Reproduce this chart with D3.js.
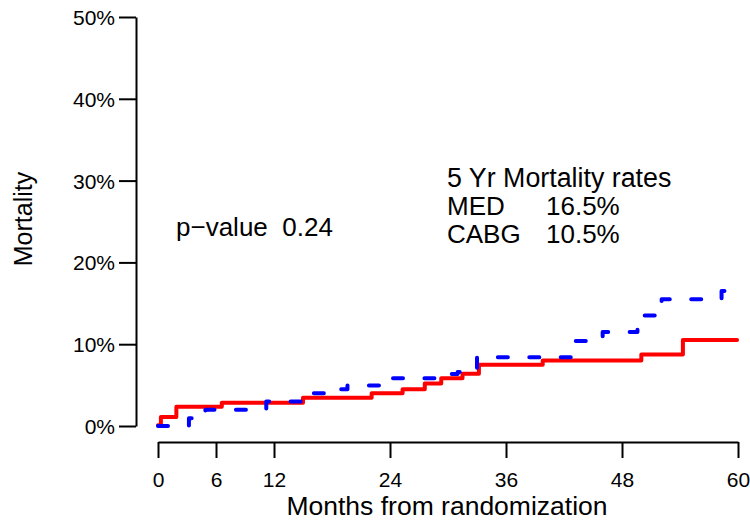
<!DOCTYPE html>
<html>
<head>
<meta charset="utf-8">
<script src="https://cdn.jsdelivr.net/npm/d3@7"></script>
<style>
  html, body { margin: 0; padding: 0; background: #fff; }
  svg { display: block; }
  text { font-family: "Liberation Sans", Arial, Helvetica, sans-serif; fill: #000; }
</style>
</head>
<body>
<svg id="chart" width="750" height="522"></svg>
<script>
// Cumulative mortality (%) by month, stepping at each event
const cabgMonths = [0, 0.3, 1.9, 6.6, 15.0, 22.1, 25.3, 27.6, 29.3, 31.5, 33.2, 39.8, 50.0, 54.3, 59.9];
const cabgPct    = [0.1, 1.1, 2.35, 2.85, 3.45, 4.0, 4.5, 5.2, 5.85, 6.4, 7.5, 8.0, 8.75, 10.5, 10.5];

const medMonths = [0, 3.2, 4.9, 11.2, 14.9, 17.8, 19.6, 23.0, 29.0, 31.0, 33.0, 43.1, 46.0, 49.6, 52.1, 58.3, 58.6];
const medPct    = [0, 0.95, 2.0, 3.0, 4.0, 4.5, 4.95, 5.85, 6.35, 6.6, 8.4, 10.4, 11.5, 13.5, 15.5, 16.5, 16.5];

const xTicks = [0, 6, 12, 24, 36, 48, 60];
const yTicks = [0, 10, 20, 30, 40, 50];

const svg = d3.select("#chart");

const x = d3.scaleLinear().domain([0, 60]).range([158, 738]);
const y = d3.scaleLinear().domain([0, 50]).range([426, 17]);

// Axes
const yAxis = svg.append("g")
  .attr("transform", "translate(136,0)")
  .call(d3.axisLeft(y).tickValues(yTicks).tickSize(17).tickSizeOuter(0).tickPadding(4)
    .tickFormat(d => d + "%"));

const xAxis = svg.append("g")
  .attr("transform", "translate(0,442)")
  .call(d3.axisBottom(x).tickValues(xTicks).tickSize(16).tickSizeOuter(0).tickFormat(d => d));

[yAxis, xAxis].forEach(g => {
  g.selectAll("path, line").attr("stroke", "#000").attr("stroke-width", 2);
  g.selectAll("text").style("font-size", "21px").attr("fill", "#000");
});
yAxis.selectAll("text").attr("dy", "0.36em");
xAxis.selectAll("text").attr("y", 45).attr("dy", 0);

// Step curves
const line = d3.line()
  .x(d => x(d[0]))
  .y(d => y(d[1]))
  .curve(d3.curveStepAfter);

svg.append("path")
  .datum(d3.zip(cabgMonths, cabgPct))
  .attr("d", line)
  .attr("fill", "none")
  .attr("stroke", "#ff0000")
  .attr("stroke-width", 4)
  .attr("stroke-linejoin", "round")
  .attr("stroke-linecap", "round");

const medPath = svg.append("path")
  .datum(d3.zip(medMonths, medPct))
  .attr("d", line)
  .attr("fill", "none")
  .attr("stroke", "#0000ff")
  .attr("stroke-width", 4)
  .attr("stroke-linejoin", "round")
  .attr("stroke-linecap", "round");

// Dashed pattern: fit whole periods so the curve both starts and ends on a dash
const dashLen = 10;
const total = medPath.node().getTotalLength();
const nPeriods = Math.round((total - dashLen) / 32);
const gapLen = (total - dashLen) / nPeriods - dashLen;
medPath.attr("stroke-dasharray", dashLen + "," + gapLen);

// Axis titles
svg.append("text")
  .attr("transform", "translate(32,219) rotate(-90)")
  .attr("text-anchor", "middle")
  .style("font-size", "25px")
  .text("Mortality");

svg.append("text")
  .attr("x", 447).attr("y", 515)
  .attr("text-anchor", "middle")
  .style("font-size", "26.5px")
  .text("Months from randomization");

// Annotations
svg.append("text")
  .attr("x", 176).attr("y", 236)
  .style("font-size", "26px")
  .style("white-space", "pre")
  .text("p\u2212value  0.24");

svg.append("text")
  .attr("x", 447).attr("y", 187)
  .style("font-size", "26.8px")
  .text("5 Yr Mortality rates");

const rates = [["MED", "16.5%", 215], ["CABG", "10.5%", 243]];
rates.forEach(r => {
  svg.append("text").attr("x", 447).attr("y", r[2]).style("font-size", "26px").text(r[0]);
  svg.append("text").attr("x", 546).attr("y", r[2]).style("font-size", "26px").text(r[1]);
});
</script>
</body>
</html>
